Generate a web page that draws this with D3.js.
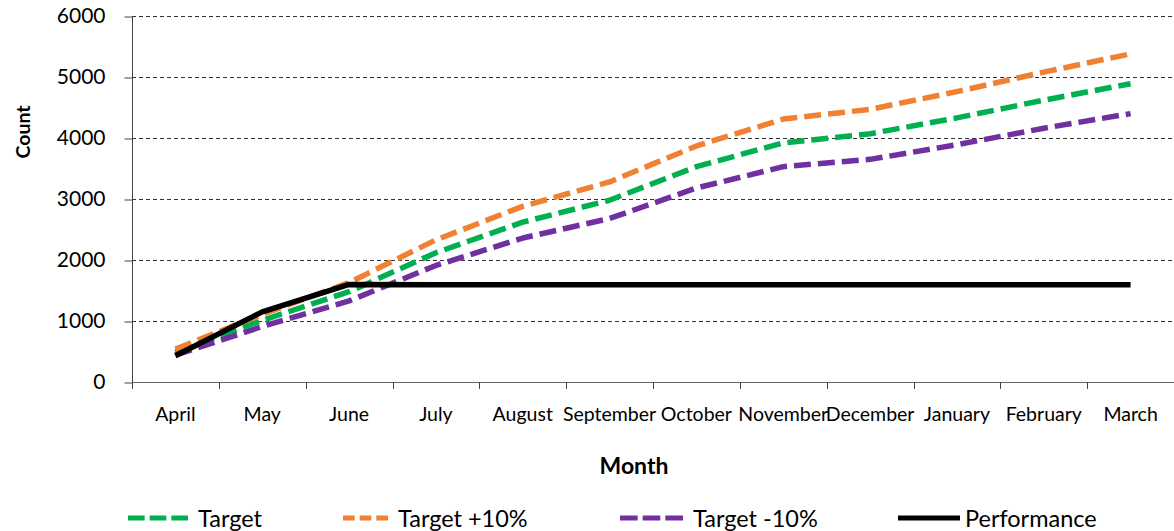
<!DOCTYPE html>
<html>
<head>
<meta charset="utf-8">
<script src="https://cdn.jsdelivr.net/npm/d3@7"></script>
<style>
  html, body { margin: 0; padding: 0; background: #fff; }
  svg { display: block; font-family: Lato, "Open Sans", sans-serif; }
</style>
</head>
<body>
<svg id="chart" width="1174" height="531"></svg>
<script>
const months = ["April","May","June","July","August","September","October","November","December","January","February","March"];
const target      = [490, 1010, 1480, 2120, 2620, 2980, 3530, 3920, 4070, 4330, 4620, 4890];
const targetPlus  = [540, 1110, 1630, 2330, 2880, 3280, 3870, 4310, 4470, 4760, 5080, 5380];
const targetMinus = [440,  910, 1330, 1910, 2360, 2680, 3180, 3530, 3650, 3890, 4160, 4400];
const performance = [430, 1150, 1600, 1595, 1595, 1595, 1595, 1595, 1595, 1595, 1595, 1595];
const yTicks = [0, 1000, 2000, 3000, 4000, 5000, 6000];

const seriesNames  = ["Target", "Target +10%", "Target -10%", "Performance"];
const seriesData   = [target, targetPlus, targetMinus, performance];
const seriesColors = ["#00B050", "#F08133", "#7030A0", "#000000"];
const seriesDash   = ["17,7", "17,7", "17,7", null];

(function () {
const svg = d3.select("#chart");
const pLeft = 132, pRight = 1174, pTop = 16, pBottom = 382;

const x = d3.scaleBand().domain(months).range([pLeft, pRight]).paddingInner(0).paddingOuter(0);
const y = d3.scaleLinear().domain([0, 6000]).range([pBottom, pTop]);

// gridlines
svg.append("g").selectAll("line").data(yTicks).join("line")
  .attr("x1", pLeft).attr("x2", pRight)
  .attr("y1", d => y(d) + 0.5).attr("y2", d => y(d) + 0.5)
  .attr("stroke", "#333").attr("stroke-width", 1).attr("stroke-dasharray", "4,3");

// y axis
const yAxis = svg.append("g").attr("transform", `translate(${pLeft + 0.5},0)`)
  .call(d3.axisLeft(y).tickValues(yTicks).tickSize(8).tickPadding(19).tickFormat(d3.format("d")));
yAxis.select(".domain").attr("stroke", "#444").attr("d", `M0,${y(6000)}V${y(0)}`);
yAxis.selectAll(".tick line").attr("stroke", "#444").attr("transform", "translate(0,0.5)");
yAxis.selectAll(".tick text").attr("font-size", 21).attr("fill", "#000").attr("font-family", "Lato");

// x axis: ticks at band boundaries
const bounds = months.map(m => x(m)).concat([pRight]);
svg.append("line").attr("x1", pLeft).attr("x2", pRight)
  .attr("y1", pBottom + 0.5).attr("y2", pBottom + 0.5).attr("stroke", "#666").attr("stroke-width", 1);
svg.append("g").selectAll("line").data(bounds).join("line")
  .attr("x1", d => Math.round(d) + 0.5).attr("x2", d => Math.round(d) + 0.5)
  .attr("y1", pBottom).attr("y2", pBottom + 7)
  .attr("stroke", "#444");
svg.append("g").selectAll("text").data(months).join("text")
  .attr("x", d => x(d) + x.bandwidth() / 2)
  .attr("y", 421)
  .attr("text-anchor", "middle")
  .attr("font-size", 19.5)
  .attr("fill", "#000")
  .text(d => d);

// lines
const line = d3.line().x((d, i) => x(months[i]) + x.bandwidth() / 2).y(d => y(d));
seriesData.forEach((s, k) => {
  svg.append("path").datum(s)
    .attr("d", line)
    .attr("fill", "none")
    .attr("stroke", seriesColors[k])
    .attr("stroke-width", 5.5)
    .attr("stroke-dasharray", seriesDash[k])
    .attr("stroke-linejoin", "round");
});

// axis titles
svg.append("text").attr("x", 634).attr("y", 474)
  .attr("text-anchor", "middle").attr("font-weight", "bold").attr("font-size", 23)
  .text("Month");
svg.append("text").attr("transform", "translate(30,132) rotate(-90)")
  .attr("text-anchor", "middle").attr("font-weight", "bold").attr("font-size", 19.5)
  .text("Count");

// legend
const legendSwatchX = [128, 343, 620, 898];
const legendTextX   = [198, 398, 693, 965];
const ly = 518;
seriesNames.forEach((n, k) => {
  const g = svg.append("g");
  const sx = legendSwatchX[k], ex = legendTextX[k] - 5;
  if (seriesDash[k]) {
    const seg = (ex - sx) / 3;
    for (let j = 0; j < 3; j++) {
      g.append("rect").attr("x", sx + j * seg).attr("y", ly - 2.5)
        .attr("width", seg - 5).attr("height", 5).attr("fill", seriesColors[k]);
    }
  } else {
    g.append("rect").attr("x", sx).attr("y", ly - 2.5)
      .attr("width", ex - sx).attr("height", 5).attr("fill", seriesColors[k]);
  }
  g.append("text").attr("x", legendTextX[k]).attr("y", ly + 9)
    .attr("font-size", 23.5).attr("fill", "#000").text(n);
});
})();
</script>
</body>
</html>
